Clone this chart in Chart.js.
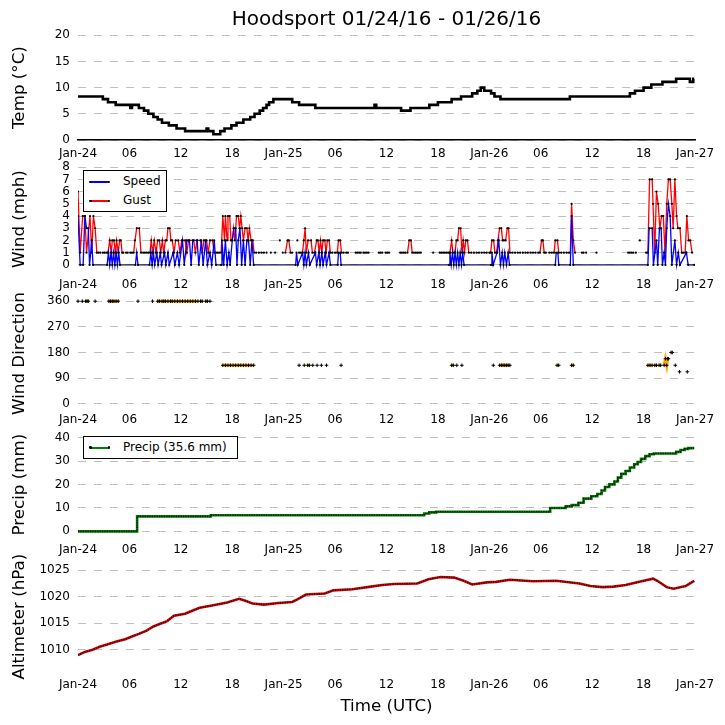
<!DOCTYPE html>
<html><head><meta charset="utf-8">
<script src="https://cdn.jsdelivr.net/npm/chart.js@4.4.1/dist/chart.umd.min.js"></script>
<style>
html,body{margin:0;padding:0;background:#fff;}
#wrap{position:relative;width:725px;height:725px;overflow:hidden;font-family:'DejaVu Sans',sans-serif;color:#000;}
canvas{position:absolute;left:0;}
.txt{position:absolute;white-space:nowrap;}
.box{position:absolute;border:1px solid #000;background:#fff;box-sizing:border-box;}
.ln{position:absolute;height:2px;}
.dot{position:absolute;width:2.5px;height:2.5px;border-radius:50%;background:#000;}
</style></head>
<body>
<div id="wrap">
  <canvas id="cTemp"></canvas>
  <canvas id="cWind"></canvas>
  <canvas id="cDir"></canvas>
  <canvas id="cPrecip"></canvas>
  <canvas id="cAlt"></canvas>
  <div class="txt" style="left:78px;width:617px;text-align:center;top:6px;font-size:20px;line-height:24px;">Hoodsport 01/24/16 - 01/26/16</div>
  <div class="txt" style="left:78px;width:617px;text-align:center;top:695px;font-size:16.7px;line-height:20px;">Time (UTC)</div>

  <div class="box" style="left:83px;top:170px;width:84px;height:42px;"></div>
  <div class="ln" style="left:90px;top:181px;width:19px;background:#0000ff;"></div>
  <div class="dot" style="left:89px;top:180.7px;"></div><div class="dot" style="left:107.5px;top:180.7px;"></div>
  <div class="txt" style="left:123px;top:174px;font-size:12px;line-height:15px;">Speed</div>
  <div class="ln" style="left:90px;top:200px;width:19px;background:#ff0000;"></div>
  <div class="dot" style="left:89px;top:199.7px;"></div><div class="dot" style="left:107.5px;top:199.7px;"></div>
  <div class="txt" style="left:123px;top:193px;font-size:12px;line-height:15px;">Gust</div>

  <div class="box" style="left:83px;top:436px;width:155px;height:23px;"></div>
  <div class="ln" style="left:90px;top:446.5px;width:19px;background:#008000;"></div>
  <div class="dot" style="left:89px;top:446.2px;"></div><div class="dot" style="left:107.5px;top:446.2px;"></div>
  <div class="txt" style="left:123px;top:440px;font-size:12px;line-height:15px;">Precip (35.6 mm)</div>
</div>
<script>
// ---------- data (hours since Jan-24 00:00 UTC) ----------
const xTickHours = [0, 6, 12, 18, 24, 30, 36, 42, 48, 54, 60, 66, 72];
const xTickLabels = ['Jan-24','06','12','18','Jan-25','06','12','18','Jan-26','06','12','18','Jan-27'];

const tempTicks = [0, 5, 10, 15, 20];
const windTicks = [0, 1, 2, 3, 4, 5, 6, 7, 8];
const dirTicks = [0, 90, 180, 270, 360];
const precipTicks = [0, 10, 20, 30, 40];
const altTicks = [1010, 1015, 1020, 1025];

const tempHours = [0, 2.9, 3.5, 4.4, 6.1, 6.3, 7.1, 7.7, 8.2, 8.8,
 9.3, 9.8, 10.6, 11.5, 12.5, 15.0, 15.2, 15.8, 16.6, 17.1,
 17.9, 18.5, 19.3, 20.1, 20.6, 21.2, 21.6, 22.0, 22.3, 22.8,
 25.0, 25.8, 27.7, 34.6, 34.8, 37.7, 38.8, 41.0, 42.0, 43.6,
 44.7, 46.0, 46.6, 47.0, 47.4, 48.2, 48.6, 49.3, 57.4, 64.4,
 65.0, 66.0, 66.9, 68.2, 69.8, 71.4, 71.8, 71.9];
const tempValues = [8.3, 7.8, 7.2, 6.7, 6.1, 6.7, 6.1, 5.6, 5.0, 4.4,
 3.9, 3.3, 2.8, 2.2, 1.7, 2.2, 1.7, 1.1, 1.7, 2.2,
 2.8, 3.3, 3.9, 4.4, 5.0, 5.6, 6.1, 6.7, 7.2, 7.8,
 7.2, 6.7, 6.1, 6.7, 6.1, 5.6, 6.1, 6.7, 7.2, 7.8,
 8.3, 8.9, 9.4, 10.0, 9.4, 8.9, 8.3, 7.8, 8.3, 8.9,
 9.4, 10.0, 10.6, 11.1, 11.7, 11.1, 11.7, 11.7];

const speedHours = [0, 0.25, 0.6, 0.8, 1.0, 1.2, 1.35, 1.6, 1.75, 3.4,
 3.55, 3.7, 3.85, 4.0, 4.15, 4.3, 4.45, 4.6, 4.75, 4.9,
 6.7, 6.85, 7.0, 8.35, 8.5, 8.65, 8.8, 8.95, 9.2, 9.35,
 9.6, 9.75, 10.1, 10.25, 10.5, 10.65, 11.1, 11.3, 11.6, 11.8,
 12.2, 12.4, 12.7, 13.0, 13.2, 13.4, 13.9, 14.1, 14.4, 14.6,
 14.9, 15.1, 15.4, 15.6, 15.9, 16.1, 16.7, 16.8, 17.0, 17.2,
 17.4, 17.6, 17.75, 18.0, 18.2, 18.4, 18.55, 18.7, 18.9, 19.1,
 19.3, 19.5, 19.7, 19.9, 20.1, 20.3, 20.5, 25.4, 25.5, 25.65,
 26.2, 26.35, 26.5, 26.65, 26.9, 27.05, 27.7, 27.85, 28.1, 28.25,
 28.45, 28.6, 28.85, 29.0, 29.3, 29.45, 30.3, 30.4, 30.6, 30.7,
 43.3, 43.4, 43.55, 43.7, 43.85, 44.0, 44.15, 44.3, 44.45, 44.6,
 44.75, 44.9, 45.05, 48.2, 48.3, 48.45, 48.9, 49.1, 49.3, 49.5,
 49.65, 49.8, 50.0, 50.2, 50.35, 55.7, 55.8, 56.0, 56.1, 57.45,
 57.6, 57.8, 66.5, 66.65, 67.0, 67.15, 67.5, 67.65, 67.85, 68.05,
 68.2, 68.4, 68.55, 68.7, 68.9, 69.1, 69.3, 69.65, 69.85, 70.05,
 70.25, 71.0, 71.2, 71.9];
const speedValues = [4, 0, 0, 4, 3, 3, 0, 2, 0, 0,
 1, 0, 1, 0, 1, 0, 1, 0, 1, 0,
 0, 1, 0, 0, 1, 0, 1, 0, 1, 0,
 1, 0, 1, 0, 1, 0, 1, 0, 1, 0,
 2, 0, 2, 2, 0, 2, 2, 0, 2, 0,
 2, 0, 1, 0, 2, 0, 0, 2, 0, 2,
 0, 1, 0, 2, 3, 3, 0, 2, 3, 0,
 2, 0, 2, 2, 0, 2, 0, 0, 1, 0,
 1, 0, 1, 0, 1, 0, 1, 0, 1, 0,
 1, 0, 1, 0, 1, 0, 0, 1, 1, 0,
 0, 1, 0, 1, 0, 1, 0, 1, 0, 1,
 0, 1, 0, 0, 1, 0, 1, 2, 0, 1,
 0, 1, 0, 1, 0, 0, 1, 1, 0, 0,
 4, 0, 0, 3, 3, 0, 2, 0, 3, 3,
 0, 1, 0, 3, 5, 4, 0, 2, 0, 1,
 0, 1, 0, 0];

const gustHours = [0, 0.25, 0.55, 0.8, 1.0, 1.4, 1.6, 1.8, 2.0, 2.2,
 2.4, 2.6, 2.7, 2.9, 3.1, 3.3, 3.5, 3.7, 3.9, 4.0,
 4.2, 4.35, 4.5, 4.7, 4.85, 5.0, 5.15, 5.3, 5.4, 5.6,
 5.8, 5.9, 6.1, 6.3, 6.5, 6.65, 6.85, 7.15, 7.35, 7.45,
 7.6, 7.8, 8.0, 8.2, 8.4, 8.55, 8.7, 8.9, 9.1, 9.3,
 9.5, 9.65, 9.85, 10.0, 10.2, 10.35, 10.5, 10.7, 10.85, 11.0,
 11.2, 11.4, 11.7, 11.9, 12.1, 12.5, 12.7, 12.9, 13.5, 13.7,
 13.9, 14.3, 14.5, 14.7, 15.0, 15.2, 15.4, 15.7, 15.9, 16.1,
 16.2, 16.3, 16.5, 16.7, 16.9, 17.1, 17.2, 17.4, 17.5, 17.7,
 17.85, 18.0, 18.15, 18.3, 18.5, 18.7, 18.85, 19.0, 19.15, 19.3,
 19.5, 19.7, 19.85, 20.0, 20.2, 20.4, 20.55, 20.8, 21.1, 21.4,
 21.7, 22.0, 22.1, 22.5, 22.7, 23.0, 23.2, 23.55, 23.7, 23.9,
 24.0, 24.2, 24.45, 24.6, 24.8, 25.0, 25.1, 25.6, 25.7, 25.8,
 26.0, 26.2, 26.35, 26.5, 26.65, 26.85, 27.2, 27.35, 27.6, 27.85,
 28.0, 28.15, 28.3, 28.45, 28.6, 28.8, 28.95, 29.1, 29.3, 29.45,
 29.7, 30.0, 30.25, 30.4, 30.6, 30.75, 31.0, 31.3, 31.5, 31.7,
 32.4, 32.6, 32.8, 33.0, 33.1, 33.3, 33.5, 33.7, 33.9, 34.5,
 35.1, 35.3, 35.5, 35.7, 35.9, 36.1, 36.3, 36.8, 37.6, 37.8,
 38.0, 38.2, 38.45, 38.65, 38.85, 39.0, 39.2, 39.4, 39.6, 39.8,
 40.0, 40.5, 41.45, 41.8, 42.2, 42.4, 42.6, 42.8, 43.0, 43.2,
 43.4, 43.6, 43.75, 44.0, 44.15, 44.3, 44.45, 44.65, 44.8, 44.95,
 45.1, 45.25, 45.45, 45.6, 45.9, 46.2, 46.5, 46.8, 47.1, 47.4,
 47.7, 48.0, 48.15, 48.3, 48.5, 48.65, 48.85, 49.0, 49.2, 49.4,
 49.55, 49.7, 49.9, 50.1, 50.25, 50.4, 50.7, 51.0, 51.3, 51.6,
 51.9, 52.2, 52.5, 52.8, 53.1, 53.4, 53.7, 53.9, 54.1, 54.25,
 54.4, 54.6, 54.8, 55.0, 55.3, 55.55, 55.7, 55.95, 56.1, 56.4,
 56.7, 57.0, 57.3, 57.45, 57.6, 57.8, 58.0, 58.4, 58.8, 59.0,
 59.3, 59.8, 60.5, 61.0, 64.2, 64.4, 64.6, 64.8, 65.1, 65.3,
 65.56, 65.9, 66.3, 66.5, 66.7, 67.0, 67.1, 67.3, 67.5, 67.7,
 67.9, 68.1, 68.3, 68.5, 68.7, 68.9, 69.1, 69.3, 69.45, 69.65,
 69.85, 70.0, 70.25, 70.45, 70.65, 70.85, 71.05, 71.25, 71.45, 71.65];
const gustValues = [6, 1, 4, 4, 1, 4, 1, 4, 3, 1,
 1, 1, null, 1, 1, 1, 1, 2, 1, 2,
 2, 1, 2, 1, 2, 2, 1, 1, null, 1,
 1, null, 1, 1, 1, 2, 3, 3, 1, null,
 1, 1, 1, 1, 1, 2, 1, 2, 1, 2,
 2, 1, 2, 1, 2, 2, 3, 3, 2, 2,
 1, 2, 2, 1, 2, 2, 1, 2, 2, 1,
 2, 2, 1, 2, 2, 1, 2, 2, 1, 1,
 null, 1, 1, 1, 4, 2, 4, 2, 4, 4,
 2, 2, 3, 2, 4, 4, 3, 4, 3, 2,
 3, 3, 2, 3, 2, 2, 1, 1, 1, 1,
 1, 1, null, 1, null, 1, null, 2, null, 1,
 null, 1, 2, 2, 1, 1, null, 2, null, 1,
 1, 1, 2, 3, 1, 2, 2, 1, 1, 2,
 2, 1, 2, 1, 2, 2, 1, 2, 2, 1,
 1, 1, 1, 2, 2, 1, 1, 1, 1, null,
 1, 1, 1, 1, null, 1, 1, 1, 1, null,
 1, 1, 1, null, 1, 1, 1, null, 1, 1,
 1, 1, 1, 2, 2, 1, 1, 1, 1, 1,
 1, null, 1, null, 1, 1, 1, 1, 1, 1,
 1, 2, 1, 1, 2, 2, 3, 3, 1, 2,
 1, 2, 2, 1, 1, 1, 1, 1, 1, 1,
 1, 1, 1, 2, 2, 1, 1, 2, 3, 3,
 2, 2, 2, 3, 3, 1, 1, 1, 1, 1,
 1, 1, 1, 1, 1, 1, 1, 1, 2, 2,
 1, 1, null, 1, 1, 1, 2, 2, 1, 1,
 1, 1, 1, 1, 5, 2, 1, null, 1, 1,
 1, null, 1, null, 1, 1, 1, 1, 1, null,
 2, null, 1, 1, 7, 7, 5, 1, 6, 5,
 3, 4, 4, 1, 5, 7, 7, 5, 3, 7,
 4, 3, 3, 1, 1, 1, 4, 2, 2, 1];

const dirHours = [0.0, 0.2, 0.5, 0.7, 0.9, 1.05, 1.2, 1.5, 2.0, 2.5,
 3.6, 3.8, 4.0, 4.2, 4.45, 4.7, 5.5, 7.0, 7.5, 8.7,
 9.0, 9.3, 9.5, 9.8, 10.0, 10.2, 10.5, 10.8, 11.0, 11.3,
 11.6, 11.9, 12.2, 12.5, 12.8, 13.1, 13.4, 13.7, 14.0, 14.15,
 14.3, 14.5, 14.7, 14.9, 15.1, 15.25, 15.4, 16.0, 16.9, 17.2,
 17.5, 17.8, 18.1, 18.4, 18.7, 19.0, 19.3, 19.6, 19.9, 20.2,
 20.5, 21.0, 25.8, 26.1, 26.4, 26.6, 26.8, 27.0, 27.2, 27.4,
 27.6, 27.9, 28.1, 28.4, 28.7, 29.0, 29.5, 30.7, 31.0, 43.6,
 43.8, 44.0, 44.2, 44.5, 44.8, 45.5, 48.46, 48.8, 49.2, 49.4,
 49.6, 49.8, 50.0, 50.2, 50.4, 51.0, 55.9, 56.1, 56.5, 57.6,
 57.8, 58.5, 66.5, 66.75, 67.0, 67.15, 67.3, 67.5, 67.65, 67.8,
 68.0, 68.2, 68.4, 68.55, 68.7, 68.8, 68.9, 69.05, 69.2, 69.35,
 69.5, 69.7, 69.9, 70.2, 70.6, 71.1];
const dirValues = [360, null, 360, null, 360, 360, 360, null, 360, null,
 360, 360, 360, 360, 360, 360, null, 360, null, 360,
 null, 360, 360, 360, 360, 360, 360, 360, 360, 360,
 360, 360, 360, 360, 360, 360, 360, 360, 360, null,
 360, 360, null, 360, 360, null, 360, null, 135, 135,
 135, 135, 135, 135, 135, 135, 135, 135, 135, 135,
 135, null, 135, null, 135, null, 135, 135, null, 135,
 null, 135, null, 135, null, 135, null, 135, null, 135,
 135, null, 135, null, 135, null, 135, null, 135, 135,
 135, 135, 135, 135, 135, null, 135, 135, null, 135,
 135, null, 135, 135, 135, null, 135, 135, null, 135,
 135, null, 135, 158, 135, 158, 158, null, 180, 180,
 null, 135, null, 112, null, 112];

const precipHours = [0, 6.9, 15.5, 40.4, 41.0, 41.8, 55.1, 56.9, 57.6, 58.4,
 59.0, 59.9, 60.6, 61.1, 61.5, 62.0, 62.6, 63.0, 63.4, 63.9,
 64.4, 64.9, 65.3, 65.7, 66.2, 66.7, 67.2, 69.8, 70.3, 70.8,
 71.2, 71.9];
const precipValues = [0, 6.4, 6.9, 7.6, 8.1, 8.4, 10.0, 10.7, 11.2, 12.2,
 14.0, 15.0, 16.0, 17.5, 19.0, 20.1, 21.3, 23.0, 24.6, 25.8,
 27.3, 28.7, 29.7, 31.0, 32.2, 33.0, 33.3, 34.0, 34.8, 35.3,
 35.6, 35.6];

const altHours = [0, 0.8, 1.7, 2.6, 3.4, 4.4, 5.5, 6.3, 7.1, 8.0,
 8.8, 9.6, 10.4, 11.2, 12.5, 13.4, 14.2, 15.8, 17.4, 18.8,
 19.6, 20.4, 21.7, 23.4, 25.0, 25.6, 26.6, 28.8, 29.8, 32.0,
 34.2, 35.5, 36.9, 39.6, 40.9, 42.3, 43.9, 45.0, 46.0, 47.7,
 48.8, 50.4, 53.1, 55.8, 58.5, 59.8, 61.2, 62.5, 63.9, 65.5,
 67.1, 67.6, 68.7, 69.5, 70.9, 71.9];
const altValues = [1009.0, 1009.6, 1010.0, 1010.6, 1011.0, 1011.5, 1012.0, 1012.5, 1013.0, 1013.6,
 1014.4, 1014.9, 1015.4, 1016.4, 1016.8, 1017.4, 1017.9, 1018.4, 1018.9, 1019.6,
 1019.2, 1018.7, 1018.5, 1018.8, 1019.0, 1019.5, 1020.4, 1020.6, 1021.2, 1021.4,
 1021.9, 1022.2, 1022.4, 1022.5, 1023.3, 1023.7, 1023.6, 1023.0, 1022.3, 1022.7,
 1022.8, 1023.2, 1022.9, 1023.0, 1022.5, 1022.0, 1021.8, 1021.9, 1022.2, 1022.8,
 1023.4, 1023.0, 1021.8, 1021.5, 1022.0, 1023.0];

// ---------- helpers ----------
Chart.defaults.font.family = "'DejaVu Sans', sans-serif";
Chart.defaults.color = '#000';

function pts(hours, vals) { return hours.map((h, i) => ({ x: h, y: vals[i] })); }

const PAD_TOP = 12, X_AXIS_H = 30;

function makePanel(id, plotTop, plotBottom, yMin, yMax, yTicks, yTitle, datasets, xBorder) {
  const cv = document.getElementById(id);
  const H = (plotBottom - plotTop) + PAD_TOP + X_AXIS_H;
  cv.width = 725; cv.height = H;
  cv.style.width = '725px'; cv.style.height = H + 'px';
  cv.style.top = (plotTop - PAD_TOP) + 'px';
  return new Chart(cv, {
    type: 'line',
    data: { datasets },
    options: {
      responsive: false, animation: false, events: [],
      devicePixelRatio: 1,
      layout: { padding: { top: PAD_TOP, right: 30, bottom: 0, left: 0 } },
      plugins: { legend: { display: false }, tooltip: { enabled: false } },
      scales: {
        x: {
          type: 'linear', min: 0, max: 72,
          afterBuildTicks: s => { s.ticks = xTickHours.map(v => ({ value: v })); },
          ticks: { autoSkip: false, maxRotation: 0, minRotation: 0, padding: 7,
                   font: { size: 12 }, color: '#000',
                   callback: (v, i) => xTickLabels[i] },
          grid: { display: false, drawTicks: false },
          border: { display: !!xBorder, color: '#000', width: 1.5 },
          afterFit: s => { s.height = X_AXIS_H; }
        },
        y: {
          type: 'linear', min: yMin, max: yMax,
          afterBuildTicks: s => { s.ticks = yTicks.map(v => ({ value: v })); },
          ticks: { autoSkip: false, padding: 8, font: { size: 12 }, color: '#000',
                   callback: v => String(v) },
          grid: { color: '#bfbfbf', lineWidth: 1, drawTicks: false },
          border: { display: false, dash: [8, 8] },
          title: { display: true, text: yTitle, color: '#000',
                   font: { size: 16.7 }, padding: { top: 10, bottom: 0 } },
          afterFit: s => { s.width = 78; }
        }
      }
    }
  });
}

// ---------- panels ----------
makePanel('cTemp', 32, 140, 0, 20, tempTicks, 'Temp (°C)', [
  { data: pts(tempHours, tempValues), borderColor: '#000', borderWidth: 2.6,
    pointRadius: 0, stepped: true }
], true);

makePanel('cWind', 164, 271, -0.5, 8, windTicks, 'Wind (mph)', [
  { label: 'Speed', data: pts(speedHours, speedValues), borderColor: '#0000ff', borderWidth: 1.3,
    pointRadius: 1.1, pointBackgroundColor: '#000', pointBorderWidth: 0, order: 0,
    segment: { borderColor: c => (c.p0.parsed.y === 0 && c.p1.parsed.y === 0) ? '#16165e' : undefined } },
  { label: 'Gust', data: pts(gustHours, gustValues), borderColor: '#ff0000', borderWidth: 1.3,
    pointRadius: 1.1, pointBackgroundColor: '#000', pointBorderWidth: 0, order: 1,
    segment: {
      borderColor: c => (c.p0.parsed.y === 1 && c.p1.parsed.y === 1) ? '#3a1010' : undefined,
      borderDash: c => (c.p0.parsed.y === 1 && c.p1.parsed.y === 1) ? [2, 2] : undefined } }
]);

makePanel('cDir', 298, 406, -8, 360, dirTicks, 'Wind Direction', [
  { data: pts(dirHours, dirValues), borderColor: '#ffa500', borderWidth: 3,
    pointStyle: 'cross', pointRadius: 1.8, pointBorderColor: '#000', pointBorderWidth: 1,
    clip: 8 }
]);

makePanel('cPrecip', 430, 536, -2, 42, precipTicks, 'Precip (mm)', [
  { data: pts(precipHours, precipValues), borderColor: '#111', borderWidth: 1.6,
    borderDash: [1.2, 1.2], pointRadius: 0, stepped: true, order: 0 },
  { data: pts(precipHours, precipValues), borderColor: '#008000', borderWidth: 2.6,
    pointRadius: 0, stepped: true, order: 1 }
]);

makePanel('cAlt', 559, 671, 1006, 1026.5, altTicks, 'Altimeter (hPa)', [
  { data: pts(altHours, altValues), borderColor: '#111', borderWidth: 1.6,
    borderDash: [1.2, 1.2], pointRadius: 0, order: 0 },
  { data: pts(altHours, altValues), borderColor: '#e00000', borderWidth: 2.6,
    pointRadius: 0, order: 1 }
]);
</script>
</body></html>
